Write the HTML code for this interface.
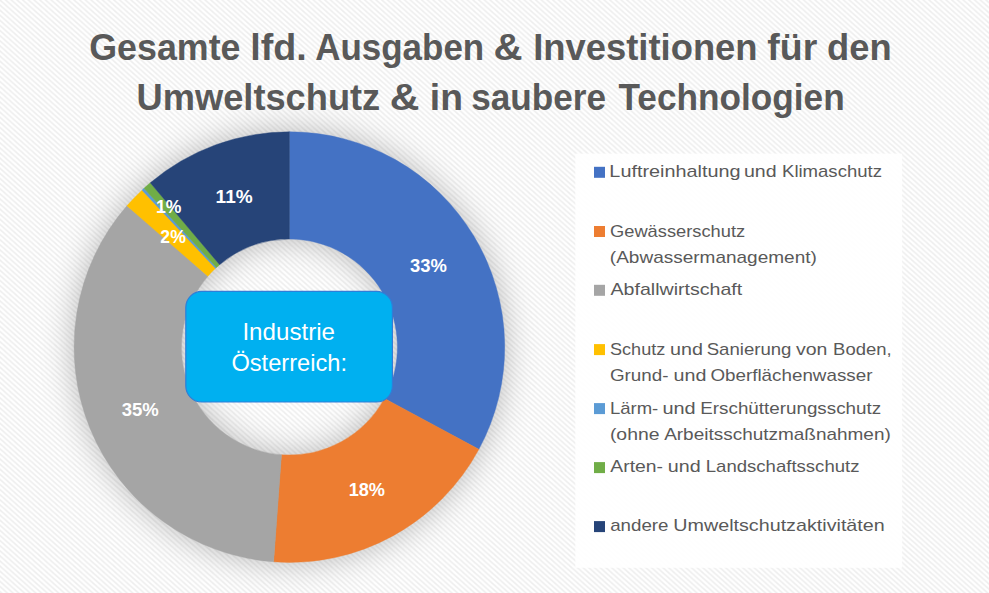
<!DOCTYPE html>
<html><head><meta charset="utf-8"><title>Chart</title>
<style>
html,body{margin:0;padding:0;background:#fff;}
body{width:989px;height:593px;overflow:hidden;font-family:"Liberation Sans",sans-serif;}
svg{display:block;}
text{font-family:"Liberation Sans",sans-serif;}
</style></head><body>
<svg width="989" height="593" viewBox="0 0 989 593">
<defs>
<pattern id="stripe" width="5.7" height="5.1" patternUnits="userSpaceOnUse">
<rect width="5.7" height="5.1" fill="#ffffff"/>
<path d="M-5.7,-5.1 L11.4,10.2 M-5.7,0 L5.7,10.2 M0,-5.1 L11.4,5.1" stroke="#eeeeee" stroke-width="1.5"/>
</pattern>
<filter id="glow" x="-20%" y="-20%" width="140%" height="140%">
<feGaussianBlur stdDeviation="16"/>
</filter>
</defs>
<rect width="989" height="593" fill="url(#stripe)"/>
<rect x="575.3" y="153.6" width="326.9" height="414.2" fill="#ffffff" fill-opacity="0.9"/>
<path d="M74.09999999999997,347.1 a215.3,215.3 0 1 0 430.6,0 a215.3,215.3 0 1 0 -430.6,0 Z M181.39999999999998,347.1 a108.0,108.0 0 1 1 216.0,0 a108.0,108.0 0 1 1 -216.0,0 Z" fill="#000" fill-opacity="0.27" fill-rule="evenodd" filter="url(#glow)"/>
<path d="M289.40,131.80 A215.3,215.3 0 0 1 478.88,449.34 L384.45,398.38 A108.0,108.0 0 0 0 289.40,239.10 Z" fill="#4472c4" stroke="#4472c4" stroke-width="0.4"/>
<path d="M478.88,449.34 A215.3,215.3 0 0 1 273.63,561.82 L281.49,454.81 A108.0,108.0 0 0 0 384.45,398.38 Z" fill="#ed7d31" stroke="#ed7d31" stroke-width="0.4"/>
<path d="M273.63,561.82 A215.3,215.3 0 0 1 126.91,205.85 L207.89,276.25 A108.0,108.0 0 0 0 281.49,454.81 Z" fill="#a5a5a5" stroke="#a5a5a5" stroke-width="0.4"/>
<path d="M126.91,205.85 A215.3,215.3 0 0 1 142.02,190.15 L215.47,268.37 A108.0,108.0 0 0 0 207.89,276.25 Z" fill="#ffc000" stroke="#ffc000" stroke-width="0.4"/>
<path d="M142.02,190.15 A215.3,215.3 0 0 1 143.95,188.36 L216.44,267.47 A108.0,108.0 0 0 0 215.47,268.37 Z" fill="#5b9bd5" stroke="#5b9bd5" stroke-width="0.4"/>
<path d="M143.95,188.36 A215.3,215.3 0 0 1 150.26,182.80 L219.60,264.68 A108.0,108.0 0 0 0 216.44,267.47 Z" fill="#70ad47" stroke="#70ad47" stroke-width="0.4"/>
<path d="M150.26,182.80 A215.3,215.3 0 0 1 289.40,131.80 L289.40,239.10 A108.0,108.0 0 0 0 219.60,264.68 Z" fill="#264478" stroke="#264478" stroke-width="0.4"/>
<rect x="185.8" y="291.4" width="206.6" height="110.6" rx="16" ry="16" fill="#00b0f0" stroke="#2f7ed8" stroke-width="1.2"/>
<text x="242.4" y="339.6" textLength="92.6" lengthAdjust="spacingAndGlyphs" font-size="23.2" fill="#fff">Industrie</text>
<text x="231.4" y="371" textLength="115.6" lengthAdjust="spacingAndGlyphs" font-size="23.2" fill="#fff">Österreich:</text>
<text x="89.28" y="59.7" textLength="151.24" lengthAdjust="spacingAndGlyphs" font-size="36" font-weight="bold" fill="#595959">Gesamte</text>
<text x="250.39" y="59.7" textLength="56.45" lengthAdjust="spacingAndGlyphs" font-size="36" font-weight="bold" fill="#595959">lfd.</text>
<text x="315.23" y="59.7" textLength="168.99" lengthAdjust="spacingAndGlyphs" font-size="36" font-weight="bold" fill="#595959">Ausgaben</text>
<text x="493.44" y="59.7" textLength="29.07" lengthAdjust="spacingAndGlyphs" font-size="36" font-weight="bold" fill="#595959">&amp;</text>
<text x="533.17" y="59.7" textLength="224.42" lengthAdjust="spacingAndGlyphs" font-size="36" font-weight="bold" fill="#595959">Investitionen</text>
<text x="767.32" y="59.7" textLength="49.92" lengthAdjust="spacingAndGlyphs" font-size="36" font-weight="bold" fill="#595959">für</text>
<text x="827.05" y="59.7" textLength="64.57" lengthAdjust="spacingAndGlyphs" font-size="36" font-weight="bold" fill="#595959">den</text>
<text x="136.6" y="109.7" textLength="243.62" lengthAdjust="spacingAndGlyphs" font-size="36" font-weight="bold" fill="#595959">Umweltschutz</text>
<text x="389.86" y="109.7" textLength="29.68" lengthAdjust="spacingAndGlyphs" font-size="36" font-weight="bold" fill="#595959">&amp;</text>
<text x="429.83" y="109.7" textLength="33.09" lengthAdjust="spacingAndGlyphs" font-size="36" font-weight="bold" fill="#595959">in</text>
<text x="471.19" y="109.7" textLength="134.86" lengthAdjust="spacingAndGlyphs" font-size="36" font-weight="bold" fill="#595959">saubere</text>
<text x="618.46" y="109.7" textLength="226.22" lengthAdjust="spacingAndGlyphs" font-size="36" font-weight="bold" fill="#595959">Technologien</text>
<rect x="594" y="166.8" width="11" height="11" fill="#4472c4"/>
<rect x="594" y="226.0" width="11" height="11" fill="#ed7d31"/>
<rect x="594" y="284.8" width="11" height="11" fill="#a5a5a5"/>
<rect x="594" y="344.1" width="11" height="11" fill="#ffc000"/>
<rect x="594" y="403.1" width="11" height="11" fill="#5b9bd5"/>
<rect x="594" y="462.1" width="11" height="11" fill="#70ad47"/>
<rect x="594" y="521.1" width="11" height="11" fill="#264478"/>
<text x="609.39" y="177.0" textLength="131.16" lengthAdjust="spacingAndGlyphs" font-size="17" fill="#595959">Luftreinhaltung</text>
<text x="743.98" y="177.0" textLength="32.65" lengthAdjust="spacingAndGlyphs" font-size="17" fill="#595959">und</text>
<text x="782.03" y="177.0" textLength="99.93" lengthAdjust="spacingAndGlyphs" font-size="17" fill="#595959">Klimaschutz</text>
<text x="610.0" y="236.6" textLength="135.11" lengthAdjust="spacingAndGlyphs" font-size="17" fill="#595959">Gewässerschutz</text>
<text x="609.88" y="262.5" textLength="206.95" lengthAdjust="spacingAndGlyphs" font-size="17" fill="#595959">(Abwassermanagement)</text>
<text x="610.47" y="295.0" textLength="131.8" lengthAdjust="spacingAndGlyphs" font-size="17" fill="#595959">Abfallwirtschaft</text>
<text x="610.0" y="354.5" textLength="55.26" lengthAdjust="spacingAndGlyphs" font-size="17" fill="#595959">Schutz</text>
<text x="670.13" y="354.5" textLength="32.93" lengthAdjust="spacingAndGlyphs" font-size="17" fill="#595959">und</text>
<text x="706.67" y="354.5" textLength="84.82" lengthAdjust="spacingAndGlyphs" font-size="17" fill="#595959">Sanierung</text>
<text x="795.98" y="354.5" textLength="31.47" lengthAdjust="spacingAndGlyphs" font-size="17" fill="#595959">von</text>
<text x="833.08" y="354.5" textLength="58.57" lengthAdjust="spacingAndGlyphs" font-size="17" fill="#595959">Boden,</text>
<text x="609.95" y="380.5" textLength="58.58" lengthAdjust="spacingAndGlyphs" font-size="17" fill="#595959">Grund-</text>
<text x="673.64" y="380.5" textLength="32.86" lengthAdjust="spacingAndGlyphs" font-size="17" fill="#595959">und</text>
<text x="710.41" y="380.5" textLength="162.05" lengthAdjust="spacingAndGlyphs" font-size="17" fill="#595959">Oberflächenwasser</text>
<text x="609.96" y="413.5" textLength="48.35" lengthAdjust="spacingAndGlyphs" font-size="17" fill="#595959">Lärm-</text>
<text x="662.48" y="413.5" textLength="33.22" lengthAdjust="spacingAndGlyphs" font-size="17" fill="#595959">und</text>
<text x="700.3" y="413.5" textLength="180.81" lengthAdjust="spacingAndGlyphs" font-size="17" fill="#595959">Erschütterungsschutz</text>
<text x="609.9" y="439.7" textLength="49.62" lengthAdjust="spacingAndGlyphs" font-size="17" fill="#595959">(ohne</text>
<text x="664.17" y="439.7" textLength="226.63" lengthAdjust="spacingAndGlyphs" font-size="17" fill="#595959">Arbeitsschutzmaßnahmen)</text>
<text x="610.3" y="472.4" textLength="52.66" lengthAdjust="spacingAndGlyphs" font-size="17" fill="#595959">Arten-</text>
<text x="667.8" y="472.4" textLength="32.86" lengthAdjust="spacingAndGlyphs" font-size="17" fill="#595959">und</text>
<text x="705.74" y="472.4" textLength="153.74" lengthAdjust="spacingAndGlyphs" font-size="17" fill="#595959">Landschaftsschutz</text>
<text x="610.2" y="531.4000000000001" textLength="58.26" lengthAdjust="spacingAndGlyphs" font-size="17" fill="#595959">andere</text>
<text x="673.31" y="531.4000000000001" textLength="211.43" lengthAdjust="spacingAndGlyphs" font-size="17" fill="#595959">Umweltschutzaktivitäten</text>
<text x="409.97" y="272.0" textLength="36.83" lengthAdjust="spacingAndGlyphs" font-size="18.3" font-weight="bold" fill="#ffffff">33%</text>
<text x="348.64" y="495.6" textLength="36.43" lengthAdjust="spacingAndGlyphs" font-size="18.3" font-weight="bold" fill="#ffffff">18%</text>
<text x="121.66" y="415.6" textLength="37.1" lengthAdjust="spacingAndGlyphs" font-size="18.3" font-weight="bold" fill="#ffffff">35%</text>
<text x="160.35" y="242.8" textLength="25.57" lengthAdjust="spacingAndGlyphs" font-size="18.3" font-weight="bold" fill="#ffffff">2%</text>
<text x="155.89" y="212.9" textLength="25.42" lengthAdjust="spacingAndGlyphs" font-size="18.3" font-weight="bold" fill="#ffffff">1%</text>
<text x="215.62" y="202.8" textLength="37.03" lengthAdjust="spacingAndGlyphs" font-size="18.3" font-weight="bold" fill="#ffffff">11%</text>
</svg>
</body></html>
